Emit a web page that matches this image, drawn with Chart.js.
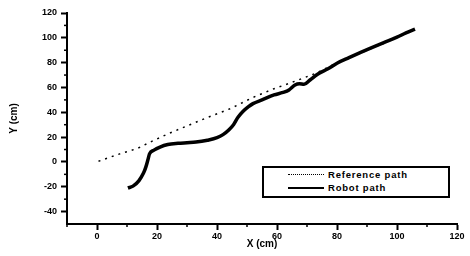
<!DOCTYPE html>
<html>
<head>
<meta charset="utf-8">
<script src="https://cdn.jsdelivr.net/npm/chart.js@4/dist/chart.umd.min.js"></script>
<style>
  html, body { margin: 0; padding: 0; background: #fff; }
  #wrap { position: relative; width: 470px; height: 256px; }
  #legend {
    position: absolute; left: 262px; top: 166px; width: 184px; height: 28px;
    border: 2px solid #000; background: #fff;
    font-family: "Liberation Sans", Arial, sans-serif; font-weight: bold; font-size: 9.5px;
    letter-spacing: 0.8px; color: #000;
  }
  .row { position: absolute; left: 0; height: 12px; line-height: 12px; }
  .lbl { position: absolute; left: 64px; white-space: nowrap; }
  .dot { position: absolute; left: 24px; top: 5px; width: 36px; height: 0; border-top: 1.5px dotted #000; }
  .sol { position: absolute; left: 24px; top: 5px; width: 36px; height: 0; border-top: 2.5px solid #000; }
</style>
</head>
<body>
<div id="wrap">
  <canvas id="c" width="470" height="256"></canvas>
  <div id="legend">
    <div class="row" style="top:1px"><div class="dot"></div><span class="lbl">Reference path</span></div>
    <div class="row" style="top:14px"><div class="sol"></div><span class="lbl">Robot path</span></div>
  </div>
</div>
<script>
// Data
const referenceX = [0.5, 4, 7.6, 11, 13.6, 18.6, 24, 30, 37, 44.5, 52, 59, 66, 73.5, 80, 88, 96, 105];
const referenceY = [0.5, 3.5, 6.5, 9, 11, 17, 23, 29, 36, 43, 52, 59, 65, 72, 80, 88, 96, 106];

const robotX = [10.3, 12, 14, 15.5, 16.3, 17, 17.5, 19, 21, 23.6, 27, 30, 33, 36.8, 40, 42, 44, 45.5, 47, 48.8, 50.5, 52, 55, 59, 62, 64, 66, 67.5, 69, 71, 73.4, 77, 80, 84, 87.7, 91, 95.4, 100, 103, 106];
const robotY = [-21, -19.5, -15, -9, -4, 2, 6.5, 9.5, 12, 14, 15, 15.5, 16, 17.5, 19.5, 22, 26, 30, 36, 41, 44.5, 47, 50, 54, 56, 58, 62, 63, 62.5, 66, 70.5, 75, 79.5, 84, 88, 91.5, 96, 100.5, 104, 107];

const xTickValues = [0, 20, 40, 60, 80, 100, 120];
const yTickValues = [-40, -20, 0, 20, 40, 60, 80, 100, 120];

const toPts = (xs, ys) => xs.map((x, i) => ({ x: x, y: ys[i] }));
const FONT = { family: '"Liberation Sans", Arial, sans-serif', weight: 'bold', size: 9 };
const TFONT = { family: '"Liberation Sans", Arial, sans-serif', weight: 'bold', size: 10 };

const minorTicks = {
  id: 'minorTicks',
  afterDraw(chart) {
    const ctx = chart.ctx, xs = chart.scales.x, ys = chart.scales.y;
    ctx.save();
    ctx.strokeStyle = '#000';
    ctx.lineWidth = 1.5;
    for (let v = xs.min; v <= xs.max; v += 10) {
      if (xTickValues.includes(v)) continue;
      const p = xs.getPixelForValue(v);
      ctx.beginPath(); ctx.moveTo(p, xs.top); ctx.lineTo(p, xs.top + 3); ctx.stroke();
    }
    for (let v = ys.min + 10; v <= ys.max; v += 10) {
      if (yTickValues.includes(v)) continue;
      const p = ys.getPixelForValue(v);
      ctx.beginPath(); ctx.moveTo(ys.right, p); ctx.lineTo(ys.right - 3, p); ctx.stroke();
    }
    ctx.restore();
  }
};

new Chart(document.getElementById('c'), {
  type: 'scatter',
  data: {
    datasets: [
      {
        label: 'Reference path',
        data: toPts(referenceX, referenceY),
        showLine: true,
        borderColor: '#000',
        borderWidth: 1.5,
        borderDash: [2, 5],
        pointRadius: 0,
        order: 2
      },
      {
        label: 'Robot path',
        data: toPts(robotX, robotY),
        showLine: true,
        borderColor: '#000',
        borderWidth: 3.5,
        pointRadius: 0,
        cubicInterpolationMode: 'monotone',
        tension: 0.4,
        order: 1
      }
    ]
  },
  options: {
    responsive: false,
    animation: false,
    devicePixelRatio: 1,
    layout: { padding: { top: 13, right: 13, left: 0, bottom: 0 } },
    plugins: { legend: { display: false }, tooltip: { enabled: false } },
    scales: {
      x: {
        type: 'linear', min: -10, max: 120,
        afterFit(s) { s.height = 32; },
        afterBuildTicks(s) { s.ticks = xTickValues.map(v => ({ value: v })); },
        ticks: { color: '#000', font: FONT, padding: 1, maxRotation: 0, autoSkip: false },
        grid: { drawOnChartArea: false, tickLength: 6, tickColor: '#000', tickWidth: 2 },
        border: { display: true, color: '#000', width: 2 },
        title: { display: true, text: 'X (cm)', color: '#000', padding: { top: 0, bottom: 6 }, font: TFONT }
      },
      y: {
        type: 'linear', min: -50, max: 120,
        afterFit(s) { s.width = 67; },
        afterBuildTicks(s) { s.ticks = yTickValues.map(v => ({ value: v })); },
        ticks: { color: '#000', font: FONT, padding: 4, autoSkip: false },
        grid: { drawOnChartArea: false, tickLength: 6, tickColor: '#000', tickWidth: 2 },
        border: { display: true, color: '#000', width: 2 },
        title: { display: true, text: 'Y (cm)', color: '#000', padding: { top: 8, bottom: 0 }, font: TFONT }
      }
    }
  },
  plugins: [minorTicks]
});
</script>
</body>
</html>
